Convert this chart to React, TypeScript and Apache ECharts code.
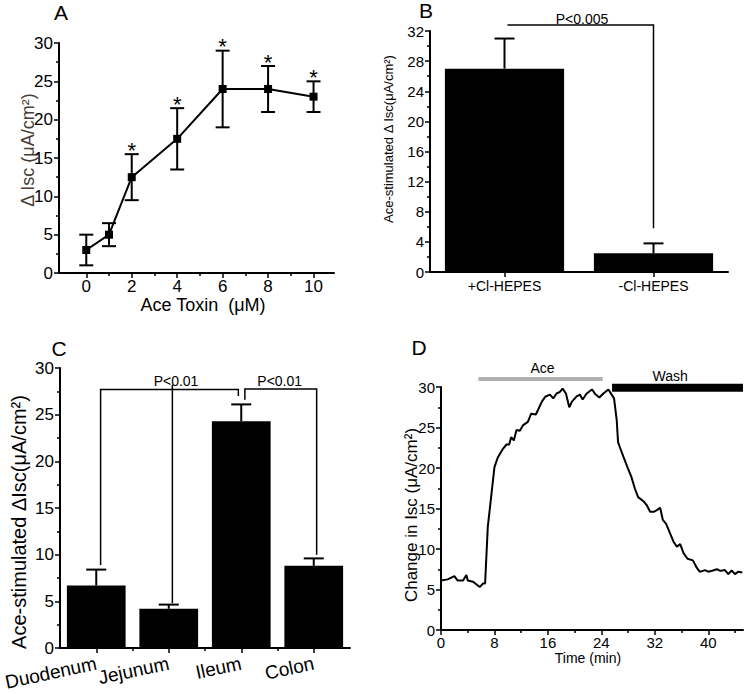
import React, { useEffect, useRef } from "react";
import * as echarts from "echarts";

const FONT = "Liberation Sans, Arial, sans-serif";

// ---------- Panel A: dose response ----------
const aDose = [0, 1, 2, 4, 6, 8, 10];
const aMean = [3, 5, 12.5, 17.5, 24, 24, 23];
const aSem = [2, 1.5, 3, 4, 5, 3, 2];
const aSignificant = [false, false, true, true, true, true, true];
const aXMajor = [0, 2, 4, 6, 8, 10];
const aXMinor = [1, 3, 5, 7, 9];

// ---------- Panel B: Cl dependence ----------
const bCategories = ["+Cl-HEPES", "-Cl-HEPES"];
const bMean = [27, 2.5];
const bSem = [4, 1.3];
const bBracket = [[0.02, 32.8], [1, 32.8], [1, 5.8]];
const bPValues = ["P<0.005"];
const bPValuePos = [[0.52, 33.6]];

// ---------- Panel C: intestinal segments ----------
const cCategories = ["Duodenum", "Jejunum", "Ileum", "Colon"];
const cMean = [6.7, 4.2, 24.3, 8.8];
const cSem = [1.7, 0.45, 1.8, 0.8];
const cBracketLeft = [[0.06, 8.9], [0.06, 27.7], [1.96, 27.7], [1.96, 27.0]];
const cBracketMid = [[1.05, 28.2], [1.05, 4.8]];
const cBracketRight = [[2.05, 26.6], [2.05, 27.75], [3.04, 27.75], [3.04, 10.0]];
const cPValues = ["P<0.01", "P<0.01"];
const cPValuePos = [[1.1, 28.65], [2.53, 28.65]];
const cXMinor = [0.5, 1.5, 2.5];

// ---------- Panel D: time course ----------
const dTime = [
  0, 1.0, 2.0, 2.5, 3.3, 3.8, 4.0, 4.8, 5.8, 6.3, 6.6, 7.0, 7.5, 8.0, 8.5, 9.3, 9.8,
  10.2, 10.5, 10.9, 11.3, 11.8, 12.3, 13.0, 13.5, 14.2, 15.1, 15.6, 16.3, 16.8, 17.3,
  17.8, 18.2, 18.7, 19.2, 19.6, 20.3, 20.8, 21.2, 21.8, 22.6, 23.1, 23.7, 24.3, 25.05,
  25.9, 26.3, 26.5, 26.8, 27.3, 28.0, 28.5, 29.0, 29.5, 30.3, 30.8, 31.3, 31.9, 32.3,
  32.8, 33.2, 33.7, 34.3, 34.8, 35.3, 35.8, 36.3, 36.9, 37.7, 38.2, 38.7, 39.2, 39.5,
  40.0, 40.7, 41.3, 41.8, 42.5, 43.0, 43.5, 44.0, 44.5, 45.1,
];
const dIsc = [
  6.1, 6.25, 6.65, 6.1, 6.1, 6.8, 6.1, 5.95, 5.3, 5.75, 5.75, 12.7, 16.4, 20.1, 21.3, 22.4, 22.9,
  22.9, 23.8, 23.4, 24.7, 24.6, 25.3, 25.7, 26.7, 26.6, 28.2, 28.8, 29.05, 28.6, 29.2,
  29.4, 29.8, 29.2, 27.5, 28.2, 28.85, 29.05, 28.45, 29.2, 29.7, 29.1, 28.7, 29.2, 29.7,
  28.6, 25.9, 23.2, 22.5, 21.4, 19.9, 18.9, 17.5, 16.4, 15.9, 15.4, 14.6, 14.6, 14.8,
  15.1, 13.6, 13.1, 11.9, 10.9, 10.3, 10.6, 9.5, 8.8, 8.6, 7.8, 7.2, 7.3, 7.4,
  7.2, 7.35, 7.5, 7.3, 7.4, 6.9, 7.35, 6.9, 7.2, 7.1,
];
const dAceBar = [[5.6, 31.0], [24.2, 31.0]];
const dWashBar = [[25.6, 29.9], [45.2, 29.9]];
const dBarLabels = ["Ace", "Wash"];
const dBarLabelPos = [[15.2, 32.4], [34.3, 31.4]];
const dXMajor = [0, 8, 16, 24, 32, 40];
const dXMinor = [4, 12, 20, 28, 36, 44];

const axisLine = { show: true, onZero: false, lineStyle: { color: "#000", width: 2 } };
const majorTick = (extra: any = {}) => ({ show: true, length: 5, lineStyle: { color: "#000", width: 1.5 }, ...extra });
const minorTick = { show: true, splitNumber: 2, length: 3, lineStyle: { color: "#000", width: 1.5 } };

function yAxis(gridIndex: number, max: number, interval: number, fontSize: number) {
  return {
    type: "value", gridIndex, min: 0, max, interval, position: "left",
    axisLine, axisTick: majorTick(), minorTick,
    splitLine: { show: false }, minorSplitLine: { show: false },
    axisLabel: { color: "#000", fontSize, fontFamily: FONT, margin: 6 },
  };
}

function hiddenValueX(gridIndex: number, min: number, max: number, ticks?: number[]) {
  return {
    type: "value", gridIndex, min, max, position: "bottom",
    axisLine: { show: false, onZero: false },
    axisTick: ticks
      ? { show: true, customValues: ticks, length: 3, lineStyle: { color: "#000", width: 1.5 } }
      : { show: false },
    axisLabel: { show: false },
    splitLine: { show: false },
    minorSplitLine: { show: false },
  };
}

function errorSeries(xi: number, yi: number, xs: number[], mean: number[], sem: number[], both: boolean, capHalf: number) {
  return {
    type: "custom", xAxisIndex: xi, yAxisIndex: yi, z: 5, clip: false,
    data: xs.map((x, i) => [x, both ? mean[i] - sem[i] : mean[i], mean[i] + sem[i]]),
    encode: { x: 0, y: [1, 2] },
    renderItem: (params: any, api: any) => {
      const x = api.value(0);
      const lo = api.coord([x, api.value(1)]);
      const hi = api.coord([x, api.value(2)]);
      const st = { stroke: "#000", lineWidth: 2 };
      const ch: any[] = [
        { type: "line", shape: { x1: lo[0], y1: lo[1], x2: hi[0], y2: hi[1] }, style: st },
        { type: "line", shape: { x1: hi[0] - capHalf, y1: hi[1], x2: hi[0] + capHalf, y2: hi[1] }, style: st },
      ];
      if (both) ch.push({ type: "line", shape: { x1: lo[0] - capHalf, y1: lo[1], x2: lo[0] + capHalf, y2: lo[1] }, style: st });
      return { type: "group", children: ch };
    },
  };
}

function textSeries(xi: number, yi: number, pos: number[][], texts: string[], fontSize: number, dy = 0, fill = "#000") {
  return {
    type: "custom", xAxisIndex: xi, yAxisIndex: yi, z: 10, clip: false,
    data: pos,
    encode: { x: 0, y: 1 },
    renderItem: (params: any, api: any) => {
      const p = api.coord([api.value(0), api.value(1)]);
      return {
        type: "text", x: p[0], y: p[1] + dy,
        style: {
          text: texts[params.dataIndex], fontSize, fontFamily: FONT, fill,
          align: "center", verticalAlign: "middle", textAlign: "center", textVerticalAlign: "middle",
        },
      };
    },
  };
}

// polyline drawn through the axes' own coordinate conversion
function polySeries(xi: number, yi: number, pts: number[][], width: number, color: string, z = 4) {
  return {
    type: "custom", xAxisIndex: xi, yAxisIndex: yi, z, clip: false, silent: true,
    data: pts,
    encode: { x: 0, y: 1 },
    renderItem: (params: any, api: any) => {
      if (params.dataIndex !== 0) return null;
      const points = pts.map((p) => api.coord(p));
      return {
        type: "polyline",
        shape: { points },
        style: { stroke: color, lineWidth: width, fill: "none", lineCap: "butt", lineJoin: "miter" },
      };
    },
  };
}

function gText(text: string, x: number, y: number, fontSize: number, rotate = false, fill = "#000") {
  return {
    type: "text", x, y, rotation: rotate ? Math.PI / 2 : 0,
    style: { text, fontSize, fontFamily: FONT, fill, align: "center", verticalAlign: "middle", textAlign: "center", textVerticalAlign: "middle" },
  };
}

export default function App() {
  const ref = useRef<HTMLDivElement>(null);
  useEffect(() => {
    if (!ref.current) return;
    const chart = echarts.init(ref.current, undefined, { renderer: "svg" });
    const stars = aDose.map((d, i) => [d, aMean[i] + aSem[i]]).filter((_, i) => aSignificant[i]);
    const g = { containLabel: false, outerBoundsMode: "none" };
    const option: any = {
      animation: false,
      backgroundColor: "#fff",
      grid: [
        { ...g, left: 59, top: 43, width: 275, height: 230 },
        { ...g, left: 430, top: 31, width: 298, height: 241 },
        { ...g, left: 60, top: 368, width: 290, height: 280 },
        { ...g, left: 441, top: 387, width: 302, height: 243 },
      ],
      xAxis: [
        // 0: A major
        {
          type: "value", gridIndex: 0, min: -1.2, max: 10.9, position: "bottom",
          axisLine, axisTick: majorTick({ customValues: aXMajor }),
          axisLabel: { customValues: aXMajor, color: "#000", fontSize: 17, fontFamily: FONT, margin: 5 },
          splitLine: { show: false },
        },
        // 1: A minor ticks
        hiddenValueX(0, -1.2, 10.9, aXMinor),
        // 2: B categories
        {
          type: "category", gridIndex: 1, data: bCategories, position: "bottom",
          axisLine, axisTick: majorTick({ alignWithLabel: true }),
          axisLabel: { color: "#000", fontSize: 14, fontFamily: FONT, margin: 7, interval: 0 },
        },
        // 3: B overlay
        hiddenValueX(1, -0.5, 1.5),
        // 4: C categories
        {
          type: "category", gridIndex: 2, data: cCategories, position: "bottom",
          axisLine, axisTick: majorTick({ alignWithLabel: true }),
          axisLabel: { color: "#000", fontSize: 19, fontFamily: FONT, margin: 15, rotate: 12, interval: 0 },
        },
        // 5: C overlay
        hiddenValueX(2, -0.5, 3.5, cXMinor),
        // 6: D major
        {
          type: "value", gridIndex: 3, min: 0, max: 45.2, position: "bottom",
          axisLine, axisTick: majorTick({ customValues: dXMajor }),
          axisLabel: { customValues: dXMajor, color: "#000", fontSize: 15, fontFamily: FONT, margin: 5 },
          splitLine: { show: false },
        },
        // 7: D minor
        hiddenValueX(3, 0, 45.2, dXMinor),
      ],
      yAxis: [
        yAxis(0, 30, 5, 17),
        yAxis(1, 32, 4, 15),
        yAxis(2, 30, 5, 17),
        yAxis(3, 30, 5, 15),
      ],
      series: [
        // Panel A
        errorSeries(0, 0, aDose, aMean, aSem, true, 7),
        {
          type: "line", xAxisIndex: 0, yAxisIndex: 0, z: 6,
          data: aDose.map((d, i) => [d, aMean[i]]),
          symbol: "rect", symbolSize: 8, showSymbol: true,
          lineStyle: { color: "#000", width: 2 }, itemStyle: { color: "#000" },
        },
        textSeries(0, 0, stars, stars.map(() => "*"), 22, -4),
        // Panel B
        {
          type: "bar", xAxisIndex: 2, yAxisIndex: 1, data: bMean, barWidth: "80%",
          itemStyle: { color: "#000" }, z: 3,
        },
        errorSeries(3, 1, bMean.map((_, i) => i), bMean, bSem, false, 10),
        polySeries(3, 1, bBracket, 1.5, "#000"),
        textSeries(3, 1, bPValuePos, bPValues, 14),
        // Panel C
        {
          type: "bar", xAxisIndex: 4, yAxisIndex: 2, data: cMean, barWidth: "81%",
          itemStyle: { color: "#000" }, z: 3,
        },
        errorSeries(5, 2, cMean.map((_, i) => i), cMean, cSem, false, 10),
        polySeries(5, 2, cBracketLeft, 1.5, "#000"),
        polySeries(5, 2, cBracketMid, 1.5, "#000"),
        polySeries(5, 2, cBracketRight, 1.5, "#000"),
        textSeries(5, 2, cPValuePos, cPValues, 14),
        // Panel D
        {
          type: "line", xAxisIndex: 6, yAxisIndex: 3, z: 5,
          data: dTime.map((t, i) => [t, dIsc[i]]),
          showSymbol: false, symbol: "none",
          lineStyle: { color: "#000", width: 2 },
        },
        polySeries(6, 3, dAceBar, 4, "#b0b0b0", 6),
        polySeries(6, 3, dWashBar, 8, "#000", 6),
        textSeries(6, 3, dBarLabelPos, dBarLabels, 14),
      ],
      graphic: [
        gText("A", 61, 12, 21),
        gText("B", 426, 10, 21),
        gText("C", 59, 348, 21),
        gText("D", 419, 347, 21),
        gText("Δ Isc (μA/cm²)", 28, 150, 18, true, "#4a3c36"),
        gText("Ace Toxin  (μM)", 203, 305, 18),
        gText("Ace-stimulated Δ Isc(μA/cm²)", 388, 139, 13, true),
        gText("Ace-stimulated ΔIsc(μA/cm²)", 19, 522, 20, true),
        gText("Change in Isc (μA/cm²)", 411, 515, 17, true),
        gText("Time (min)", 588, 658, 14),
      ],
    };
    chart.setOption(option);
    return () => chart.dispose();
  }, []);
  return (
    <div
      ref={ref}
      style={{ position: "absolute", left: 0, top: 0, width: 745, height: 694, background: "#fff" }}
    />
  );
}
